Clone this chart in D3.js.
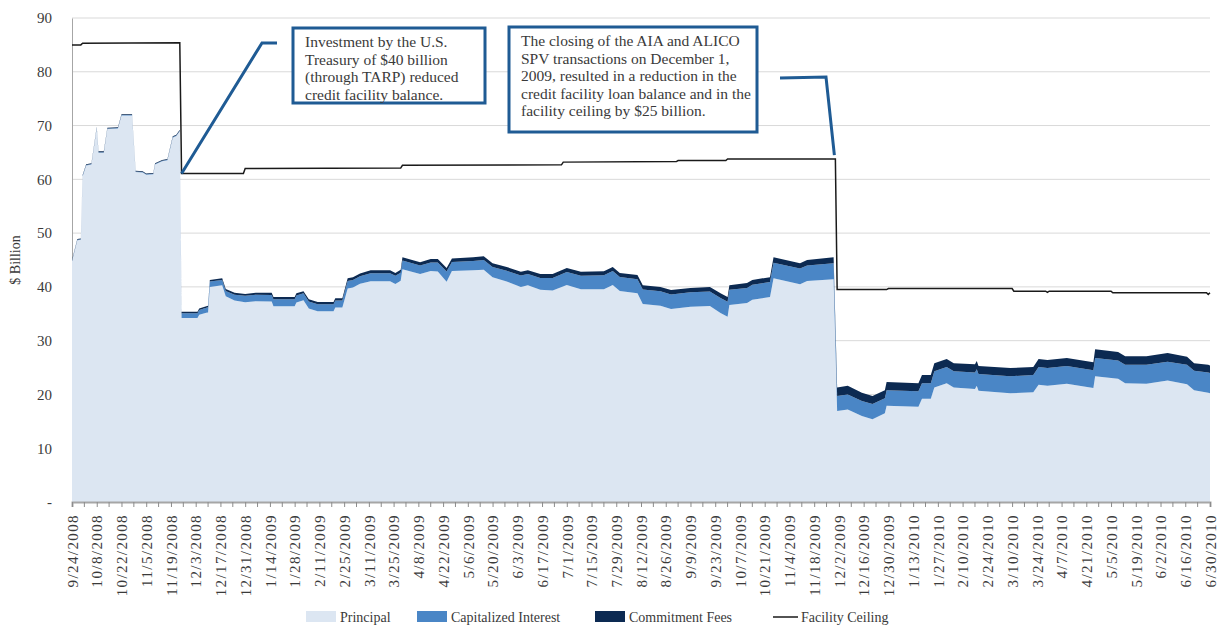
<!DOCTYPE html>
<html lang="en">
<head>
    <meta charset="UTF-8">
    <script src="https://d3js.org/d3.v7.min.js" charset="utf-8"></script>
    <title>Credit Facility Balance</title>
    <style>
        body { margin: 0; background: white; }
        text { font-family: "Liberation Serif", "DejaVu Serif", serif; fill: #3a3a3a; }
    </style>
</head>
<body>
    <div class="chart"></div>

    <script>
        const svgWidth = 1223;
        const svgHeight = 626;

        // days counted from 9/24/2008
        const dayOffsets = [0, 3, 5, 6, 8, 11, 14, 15, 18, 20, 26, 28, 34, 36, 40, 42, 46, 47, 51, 54, 57, 59, 61,
            62, 71, 72, 76, 77, 78, 85, 87, 92, 98, 104, 113, 114, 126, 127, 131, 134, 139, 148, 149, 153,
            156, 159, 163, 169, 180, 183, 186, 187, 197, 203, 207, 212, 215, 227, 233, 238, 246, 254, 258,
            265, 272, 280, 288, 301, 306, 310, 320, 323, 333, 339, 350, 361, 367, 371, 372, 382, 385, 395,
            397, 412, 416, 431,
            433, 439, 447, 453, 460, 461, 479, 481, 486, 488, 495, 499, 511, 512, 513, 531, 544, 547, 552,
            563, 578, 579, 592, 596, 608, 620, 631, 635, 643, 644];

        const principal = [44.75, 48.65, 48.75, 60.55, 62.55, 62.75, 69.55, 64.95, 64.95, 69.35, 69.45, 71.85, 71.85, 61.35, 61.25, 60.85, 60.95, 62.75, 63.35, 63.55, 67.75, 68.05, 68.95,
            34.2, 34.2, 34.8, 35.2, 35.25, 40.0, 40.3, 38.25, 37.45, 37.15, 37.35, 37.3, 36.4, 36.4, 37.1, 37.5, 36.0, 35.45, 35.45, 36.15, 36.15,
            39.7, 39.9, 40.6, 41.05, 41.05, 40.55, 41.15, 43.3, 42.4, 42.95, 42.85, 40.95, 42.95, 43.1, 43.2, 41.8, 41.0, 40.0, 40.3,
            39.45, 39.35, 40.35, 39.55, 39.55, 40.35, 39.25, 38.8, 36.8, 36.5, 35.9, 36.3, 36.45, 35.15, 34.45, 36.65, 37.0, 37.6, 38.1,
            41.6, 40.5, 41.1, 41.4,
            16.9, 17.2, 16.0, 15.4, 16.5, 17.9, 17.7, 19.2, 19.2, 21.3, 22.1, 21.3, 21.0, 21.6, 20.7, 20.2, 20.4, 21.8, 21.6,
            22.0, 21.2, 23.4, 22.9, 22.1, 22.0, 22.6, 21.9, 20.8, 20.3, 20.2];

        const interest = [0.1, 0.1, 0.1, 0.1, 0.1, 0.1, 0.1, 0.1, 0.1, 0.1, 0.1, 0.1, 0.1, 0.1, 0.1, 0.1, 0.1, 0.1, 0.1, 0.1, 0.1, 0.1, 0.1,
            0.9, 0.9, 0.9, 0.9, 0.95, 1.0, 1.0, 1.0, 1.1, 1.2, 1.2, 1.2, 1.3, 1.3, 1.3, 1.3, 1.3, 1.3, 1.3, 1.3, 1.3,
            1.4, 1.4, 1.4, 1.5, 1.5, 1.5, 1.5, 1.6, 1.6, 1.6, 1.7, 1.9, 1.7, 1.7, 1.8, 1.9, 2.0, 2.1, 2.1,
            2.2, 2.3, 2.4, 2.5, 2.6, 2.6, 2.6, 2.6, 2.7, 2.7, 2.7, 2.7, 2.7, 2.8, 2.8, 2.8, 2.8, 2.8, 2.8,
            2.9, 2.9, 2.9, 3.0,
            2.8, 2.8, 2.8, 2.8, 2.8, 2.9, 2.9, 2.9, 2.9, 3.0, 3.0, 3.0, 3.1, 3.1, 3.1, 3.2, 3.2, 3.3, 3.3,
            3.3, 3.3, 3.4, 3.4, 3.4, 3.5, 3.5, 3.6, 3.6, 3.8, 3.8];

        const fees = [0.15, 0.15, 0.15, 0.15, 0.15, 0.15, 0.15, 0.15, 0.15, 0.15, 0.15, 0.15, 0.15, 0.15, 0.15, 0.15, 0.15, 0.15, 0.15, 0.15, 0.15, 0.15, 0.15,
            0.3, 0.3, 0.3, 0.3, 0.3, 0.3, 0.3, 0.35, 0.35, 0.35, 0.35, 0.4, 0.4, 0.4, 0.4, 0.4, 0.4, 0.45, 0.45, 0.45, 0.45,
            0.5, 0.5, 0.5, 0.55, 0.55, 0.55, 0.55, 0.6, 0.6, 0.65, 0.65, 0.65, 0.65, 0.7, 0.7, 0.7, 0.7, 0.7, 0.7,
            0.75, 0.75, 0.75, 0.75, 0.75, 0.75, 0.75, 0.8, 0.8, 0.8, 0.8, 0.8, 0.85, 0.85, 0.85, 0.85, 0.9, 0.9, 0.9,
            1.0, 1.0, 1.0, 1.1,
            1.6, 1.6, 1.5, 1.5, 1.5, 1.5, 1.5, 1.5, 1.5, 1.5, 1.5, 1.5, 1.5, 1.5, 1.5, 1.5, 1.5, 1.5, 1.5,
            1.5, 1.5, 1.6, 1.6, 1.6, 1.6, 1.6, 1.5, 1.4, 1.4, 1.4];

        const ceilingDays = [0, 5, 6, 61, 62, 97, 98, 186, 187, 277, 278, 342, 343, 370, 371, 432, 433,
            461, 462, 532, 533, 551, 552, 553, 588, 589, 642, 643, 644];
        const ceiling = [85.0, 85.0, 85.3, 85.4, 61.1, 61.1, 62.0, 62.1, 62.6, 62.7, 63.2, 63.3, 63.5, 63.5, 63.8, 63.8, 39.5,
            39.5, 39.7, 39.7, 39.2, 39.2, 39.0, 39.2, 39.2, 38.9, 38.9, 38.6, 38.9];

        const yTicks = [0, 10, 20, 30, 40, 50, 60, 70, 80, 90];
        const seriesNames = ["Principal", "Capitalized Interest", "Commitment Fees"];
        const seriesColors = ["#dce6f2", "#4a86c6", "#0c2a52"];

        const note1 = ["Investment by the U.S.", "Treasury of $40 billion", "(through TARP) reduced", "credit facility balance."];
        const note2 = ["The closing of the AIA and ALICO", "SPV transactions on December 1,", "2009, resulted in a reduction in the",
            "credit facility loan balance and in the", "facility ceiling by $25 billion."];

        const start = new Date(2008, 8, 24);
        const end = new Date(2010, 5, 30);
        const toDate = d => d3.timeDay.offset(start, d);

        const rows = dayOffsets.map((d, i) => ({
            date: toDate(d),
            "Principal": principal[i],
            "Capitalized Interest": interest[i],
            "Commitment Fees": fees[i]
        }));
        const ceilingRows = ceilingDays.map((d, i) => ({ date: toDate(d), value: ceiling[i] }));

        const margin = { left: 72, right: 13, top: 18, bottom: 124 };

        const svg = d3.select(".chart").append("svg")
            .attr("width", svgWidth)
            .attr("height", svgHeight);

        const x = d3.scaleTime()
            .domain([start, end])
            .range([margin.left, svgWidth - margin.right]);
        const y = d3.scaleLinear()
            .domain([0, 90])
            .range([svgHeight - margin.bottom, margin.top]);

        // gridlines
        svg.append("g")
            .selectAll("line")
            .data(yTicks.filter(d => d > 0))
            .join("line")
            .attr("x1", margin.left)
            .attr("x2", svgWidth - margin.right)
            .attr("y1", d => y(d))
            .attr("y2", d => y(d))
            .attr("stroke", "#d9d9d9")
            .attr("stroke-width", 1);

        // y axis
        const yAxis = svg.append("g")
            .attr("transform", `translate(${margin.left},0)`)
            .call(d3.axisLeft(y).tickValues(yTicks).tickSize(0).tickPadding(20)
                .tickFormat(d => d === 0 ? "-" : d));
        yAxis.select(".domain").attr("stroke", "#a6a6a6");
        yAxis.selectAll("text").style("font-size", "15px").attr("fill", "#3a3a3a")
            .style("font-family", "\"Liberation Serif\", serif");

        svg.append("text")
            .attr("transform", `translate(20,${(y(0) + y(90)) / 2}) rotate(-90)`)
            .attr("text-anchor", "middle")
            .style("font-size", "14px")
            .text("$ Billion");

        // stacked areas
        const stack = d3.stack().keys(seriesNames);
        const layers = stack(rows);
        const area = d3.area()
            .x(d => x(d.data.date))
            .y0(d => y(d[0]))
            .y1(d => y(d[1]));

        svg.append("g")
            .selectAll("path")
            .data(layers)
            .join("path")
            .attr("d", area)
            .attr("fill", (d, i) => seriesColors[i]);

        // facility ceiling
        const line = d3.line()
            .x(d => x(d.date))
            .y(d => y(d.value));
        svg.append("path")
            .datum(ceilingRows)
            .attr("d", line)
            .attr("fill", "none")
            .attr("stroke", "#1a1a1a")
            .attr("stroke-width", 1.5);

        // x axis
        const majorTicks = d3.range(0, 645, 14).map(toDate);
        const minorTicks = d3.range(7, 645, 14).map(toDate);
        const fmt = d3.timeFormat("%-m/%-d/%Y");

        const xAxis = svg.append("g")
            .attr("transform", `translate(0,${y(0)})`)
            .call(d3.axisBottom(x).tickValues(majorTicks).tickSize(5).tickFormat(fmt));
        xAxis.select(".domain").attr("stroke", "#a6a6a6").attr("stroke-width", 2);
        xAxis.selectAll(".tick line").attr("stroke", "#8c8c8c");
        xAxis.selectAll("text")
            .attr("transform", "rotate(-90)")
            .attr("text-anchor", "end")
            .attr("x", -12)
            .attr("y", 0)
            .attr("dy", "0.35em")
            .attr("fill", "#3a3a3a")
            .style("font-size", "15px")
            .style("letter-spacing", "1.4px")
            .style("font-family", "\"Liberation Serif\", serif");

        svg.append("g")
            .selectAll("line")
            .data(minorTicks)
            .join("line")
            .attr("x1", d => x(d))
            .attr("x2", d => x(d))
            .attr("y1", y(0))
            .attr("y2", y(0) + 5)
            .attr("stroke", "#8c8c8c");

        // annotations
        const noteColor = "#1f5b94";
        const drawNote = (lines, bx, by, bw, bh) => {
            svg.append("rect")
                .attr("x", bx).attr("y", by)
                .attr("width", bw).attr("height", bh)
                .attr("fill", "white")
                .attr("stroke", noteColor)
                .attr("stroke-width", 3);
            svg.append("text")
                .attr("x", bx + 12)
                .attr("y", by + 19)
                .style("font-size", "15.5px")
                .attr("fill", "#2b2b2b")
                .selectAll("tspan")
                .data(lines)
                .join("tspan")
                .attr("x", bx + 12)
                .attr("dy", (d, i) => i === 0 ? 0 : 17.5)
                .text(d => d);
        };

        const connector = d3.line();
        svg.append("path")
            .attr("d", connector([[x(toDate(62)), y(61.1)], [262, 43], [277, 43]]))
            .attr("fill", "none")
            .attr("stroke", noteColor)
            .attr("stroke-width", 3);
        svg.append("path")
            .attr("d", connector([[780, 78], [826, 77], [x(toDate(432)) - 1, y(64.5)]]))
            .attr("fill", "none")
            .attr("stroke", noteColor)
            .attr("stroke-width", 3);

        drawNote(note1, 293, 28, 192, 75);
        drawNote(note2, 509, 27, 248, 105);

        // legend
        const legendY = 617;
        const legendX = [306, 417, 595];
        seriesNames.forEach((name, i) => {
            svg.append("rect")
                .attr("x", legendX[i]).attr("y", legendY - 6)
                .attr("width", 30).attr("height", 11)
                .attr("fill", seriesColors[i]);
            svg.append("text")
                .attr("x", legendX[i] + 34).attr("y", legendY)
                .attr("dy", "0.35em")
                .style("font-size", "14px")
                .text(name);
        });
        svg.append("line")
            .attr("x1", 773).attr("x2", 798)
            .attr("y1", legendY).attr("y2", legendY)
            .attr("stroke", "#1a1a1a").attr("stroke-width", 1.5);
        svg.append("text")
            .attr("x", 801).attr("y", legendY)
            .attr("dy", "0.35em")
            .style("font-size", "14px")
            .text("Facility Ceiling");
    </script>
</body>
</html>
